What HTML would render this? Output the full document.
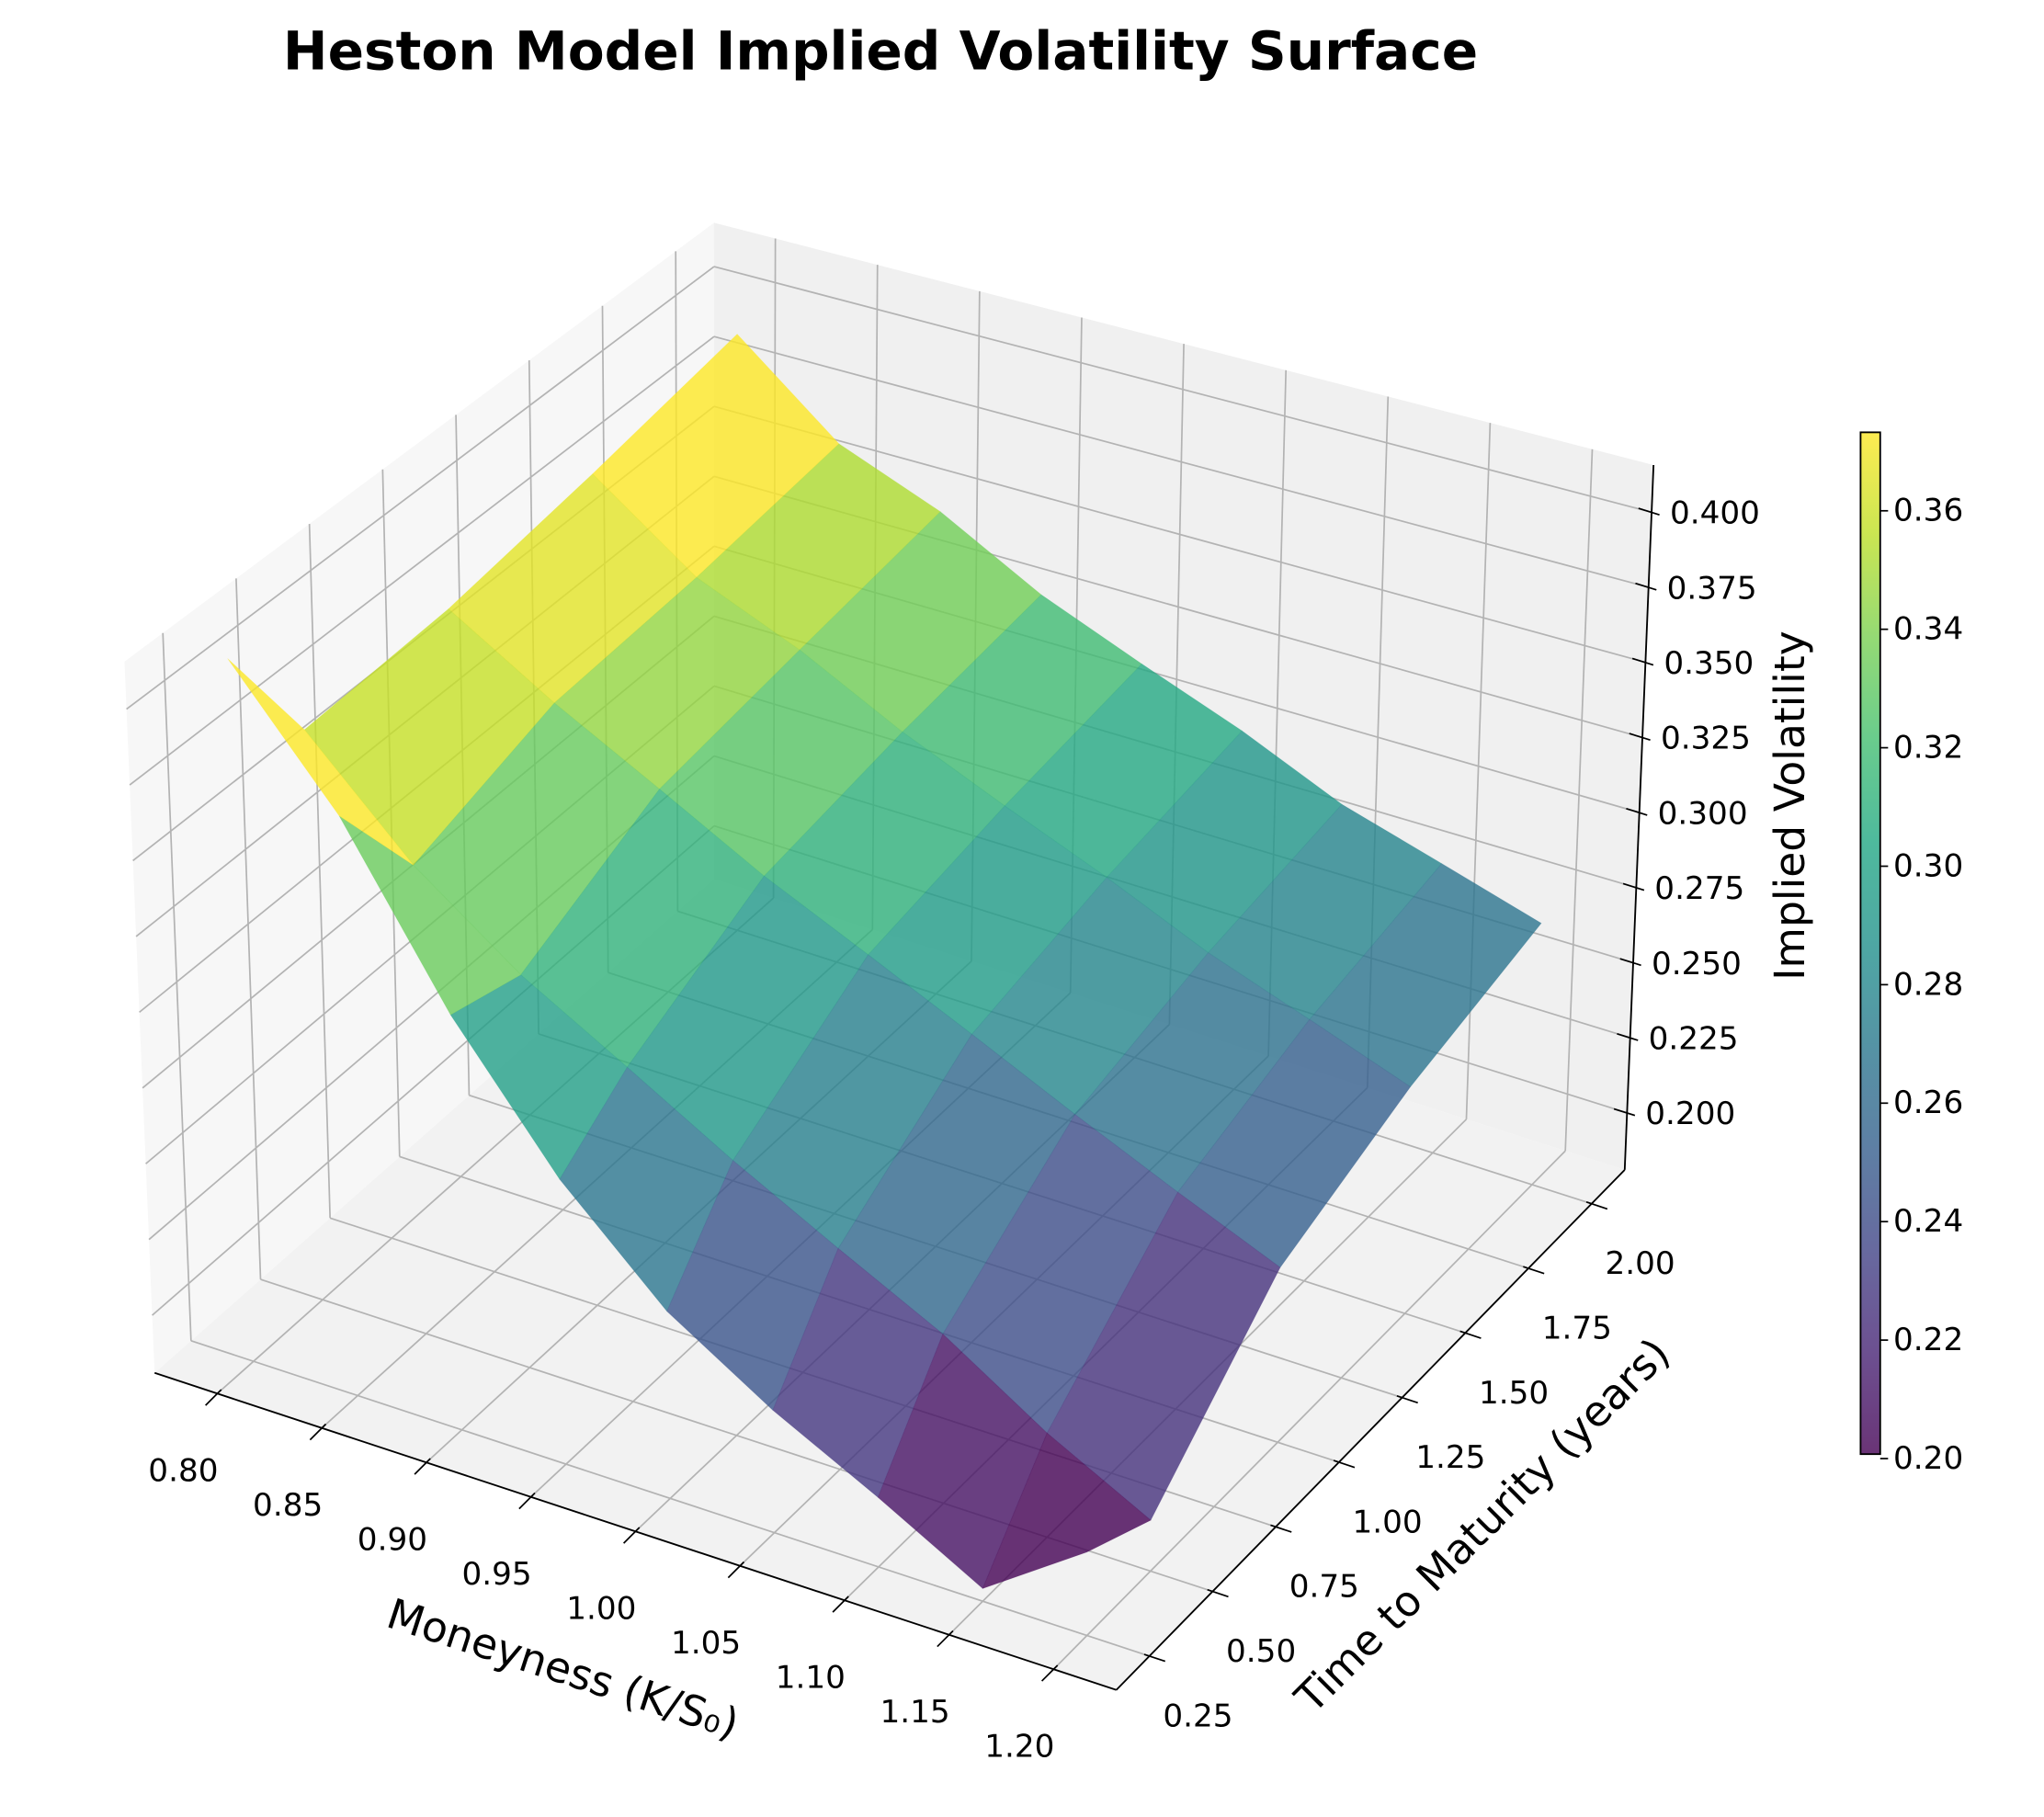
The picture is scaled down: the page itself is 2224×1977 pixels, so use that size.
<!DOCTYPE html>
<html><head><meta charset="utf-8"><title>Heston Model Implied Volatility Surface</title>
<style>html,body{margin:0;padding:0;background:#fff;}svg{display:block;}text{font-family:"DejaVu Sans","Liberation Sans",sans-serif;fill:#000;}</style>
</head><body>
<svg id="chart" xmlns="http://www.w3.org/2000/svg" width="2224" height="1977" viewBox="0 0 1560 1387" preserveAspectRatio="none">
<defs><linearGradient id="cbgrad" x1="0" y1="1" x2="0" y2="0"></linearGradient></defs>
<rect x="0" y="0" width="1560" height="1387" fill="#ffffff"/>
<g id="panes"></g>
<g id="grid"></g>
<g id="axes"></g>
<g id="surface"></g>
<g id="labels"></g>
<g id="colorbar"></g>
<text x="672" y="42" font-size="40.5" font-weight="bold" text-anchor="middle" dominant-baseline="middle" textLength="912" lengthAdjust="spacingAndGlyphs">Heston Model Implied Volatility Surface</text>
<text x="429" y="1276" font-size="32" text-anchor="middle" dominant-baseline="middle" transform="rotate(18 429 1276)">Moneyness (K/S₀)</text>
<text x="1133" y="1166" font-size="32" text-anchor="middle" dominant-baseline="middle" transform="rotate(-45 1133 1166)">Time to Maturity (years)</text>
<text x="1368" y="615" font-size="32" text-anchor="middle" dominant-baseline="middle" transform="rotate(-90 1368 615)">Implied Volatility</text>
</svg>
<script>
const moneyness = [0.80, 0.85, 0.90, 0.95, 1.00, 1.05, 1.10, 1.15, 1.20];
const maturities = [0.25, 0.5, 1.0, 1.5, 2.0];
const ivT025 = [0.413, 0.371, 0.316, 0.273, 0.241, 0.220, 0.203, 0.185, 0.207];
const ivT050 = [0.371, 0.336, 0.310, 0.290, 0.270, 0.252, 0.235, 0.214, 0.197];
const ivT100 = [0.374, 0.352, 0.333, 0.314, 0.298, 0.282, 0.266, 0.251, 0.237];
const ivT150 = [0.382, 0.356, 0.341, 0.323, 0.308, 0.294, 0.279, 0.267, 0.255];
const ivT200 = [0.392, 0.363, 0.349, 0.330, 0.316, 0.303, 0.288, 0.278, 0.268];
const ivRows = [ivT025, ivT050, ivT100, ivT150, ivT200];
const xTicks = [0.80, 0.85, 0.90, 0.95, 1.00, 1.05, 1.10, 1.15, 1.20];
const yTicks = [0.25, 0.50, 0.75, 1.00, 1.25, 1.50, 1.75, 2.00];
const zTicks = [0.200, 0.225, 0.250, 0.275, 0.300, 0.325, 0.350, 0.375, 0.400];
const cbTicks = [0.20, 0.22, 0.24, 0.26, 0.28, 0.30, 0.32, 0.34, 0.36];

const NS = 'http://www.w3.org/2000/svg';
const XL = [0.77, 1.23], YL = [0.119, 2.131], ZL = [0.181, 0.4157];
const CB = [118,1048], CA = [852,1290], CC = [1240,893], CD = [545,671];
const TB = [95,505], TA = [852,710], TC = [1262,355], TD = [545,170];
function bil(p00,p10,p11,p01,u,v){
  return [p00[0]*(1-u)*(1-v)+p10[0]*u*(1-v)+p11[0]*u*v+p01[0]*(1-u)*v,
          p00[1]*(1-u)*(1-v)+p10[1]*u*(1-v)+p11[1]*u*v+p01[1]*(1-u)*v];
}
function proj(m,t,z){
  const u=(m-XL[0])/(XL[1]-XL[0]), v=(t-YL[0])/(YL[1]-YL[0]), w=(z-ZL[0])/(ZL[1]-ZL[0]);
  const f=bil(CB,CA,CC,CD,u,v), g=bil(TB,TA,TC,TD,u,v);
  return [f[0]+(g[0]-f[0])*w, f[1]+(g[1]-f[1])*w];
}
function depth(m,t,z){
  const u=(m-XL[0])/(XL[1]-XL[0]), v=(t-YL[0])/(YL[1]-YL[0]), w=(z-ZL[0])/(ZL[1]-ZL[0]);
  return 0.433*u-0.75*v+0.5*0.75*w;
}
function mk(tag,attrs,parent){
  const e=document.createElementNS(NS,tag);
  for(const k in attrs) e.setAttribute(k,attrs[k]);
  parent.appendChild(e); return e;
}
function pts(a){return a.map(p=>p[0].toFixed(2)+','+p[1].toFixed(2)).join(' ');}
const vir=['#440154','#482475','#414487','#355f8d','#2a788e','#21918c','#22a884','#44bf70','#7ad151','#bddf26','#fde725'];
function hex2(h){return [parseInt(h.substr(1,2),16),parseInt(h.substr(3,2),16),parseInt(h.substr(5,2),16)];}
function viridis(x){
  x=Math.max(0,Math.min(1,x)); const s=x*10, i=Math.min(9,Math.floor(s)), f=s-i;
  const a=hex2(vir[i]), b=hex2(vir[i+1]);
  return 'rgb('+a.map((c,k)=>Math.round(c+(b[k]-c)*f)).join(',')+')';
}

const panes=document.getElementById('panes');
const floorPane=mk('polygon',{points:pts([CB,CA,CC,CD]),fill:'#f2f2f2'},panes);


const leftPane=mk('polygon',{points:pts([CB,CD,TD,TB]),fill:'#f7f7f7'},panes);


const backPane=mk('polygon',{points:pts([CD,CC,TC,TD]),fill:'#f0f0f0'},panes);



const grid=document.getElementById('grid');
function gl(p,q,name){
  const l=mk('line',{x1:p[0],y1:p[1],x2:q[0],y2:q[1],stroke:'#b3b3b3','stroke-width':1.2},grid);
  
  
}
xTicks.forEach(m=>{
  gl(proj(m,YL[0],ZL[0]),proj(m,YL[1],ZL[0]),'floor-grid-x');
  gl(proj(m,YL[1],ZL[0]),proj(m,YL[1],ZL[1]),'back-grid-x');
});
yTicks.forEach(t=>{
  gl(proj(XL[0],t,ZL[0]),proj(XL[1],t,ZL[0]),'floor-grid-y');
  gl(proj(XL[0],t,ZL[0]),proj(XL[0],t,ZL[1]),'left-grid-y');
});
zTicks.forEach(z=>{
  gl(proj(XL[0],YL[0],z),proj(XL[0],YL[1],z),'left-grid-z');
  gl(proj(XL[0],YL[1],z),proj(XL[1],YL[1],z),'back-grid-z');
});

const axes=document.getElementById('axes');
function al(p,q,name,w){
  const l=mk('line',{x1:p[0],y1:p[1],x2:q[0],y2:q[1],stroke:'#000','stroke-width':w||1.3},axes);
  
  
}
al(proj(XL[0],YL[0],ZL[0]),proj(XL[1],YL[0],ZL[0]),'x-axis-line');
al(proj(XL[1],YL[0],ZL[0]),proj(XL[1],YL[1],ZL[0]),'y-axis-line');
al(proj(XL[1],YL[1],ZL[0]),proj(XL[1],YL[1],ZL[1]),'z-axis-line');
const labels=document.getElementById('labels');
function lab(x,y,s,anchor,name){
  const t=mk('text',{x:x,y:y,'font-size':24,'text-anchor':anchor,'dominant-baseline':'middle'},labels);
  t.textContent=s;
  
  
}
xTicks.forEach(m=>{
  const p=proj(m,YL[0],ZL[0]);
  al([p[0]+3,p[1]-3],[p[0]-9,p[1]+9],'x-tick',1.2);
  lab(p[0]-26,p[1]+60,m.toFixed(2),'middle','x-tick-label');
});
yTicks.forEach(t=>{
  const p=proj(XL[1],t,ZL[0]);
  al([p[0]-4,p[1]-1.3],[p[0]+12,p[1]+4],'y-tick',1.2);
  lab(p[0]+37,p[1]+47,t.toFixed(2),'middle','y-tick-label');
});
zTicks.forEach(z=>{
  const p=proj(XL[1],YL[1],z);
  al([p[0]-10,p[1]-3],[p[0]+6,p[1]+2],'z-tick',1.2);
  lab(p[0]+14,p[1]+2,z.toFixed(3),'start','z-tick-label');
});

const faces=[];
for(let i=0;i<maturities.length-1;i++){
  for(let j=0;j<moneyness.length-1;j++){
    const c=[[j,i],[j+1,i],[j+1,i+1],[j,i+1]];
    const vals=c.map(([a,b])=>ivRows[b][a]);
    const avg=vals.reduce((s,v)=>s+v,0)/4;
    const p=c.map(([a,b])=>proj(moneyness[a],maturities[b],ivRows[b][a]));
    const d=c.map(([a,b])=>depth(moneyness[a],maturities[b],ivRows[b][a])).reduce((s,v)=>s+v,0)/4;
    faces.push({p:p,avg:avg,d:d});
  }
}
const vmin=Math.min(...faces.map(f=>f.avg)), vmax=Math.max(...faces.map(f=>f.avg));
faces.sort((a,b)=>a.d-b.d);
const surf=document.getElementById('surface');
faces.forEach(f=>{
  const col=viridis((f.avg-vmin)/(vmax-vmin));
  const pg=mk('polygon',{points:pts(f.p),fill:col,'fill-opacity':0.8,stroke:col,'stroke-opacity':0.25,'stroke-width':0.5},surf);
  
  
});

const grad=document.getElementById('cbgrad');
for(let k=0;k<=20;k++){
  mk('stop',{offset:(k/20),'stop-color':viridis(k/20),'stop-opacity':0.8},grad);
}
const cb=document.getElementById('colorbar');
const cbX=1420, cbW=15, cbTop=330, cbBot=1110;
const cbr=mk('rect',{x:cbX,y:cbTop,width:cbW,height:cbBot-cbTop,fill:'url(#cbgrad)',stroke:'#000','stroke-width':1.3},cb);


cbTicks.forEach(v=>{
  const y=cbBot-(v-vmin)/(vmax-vmin)*(cbBot-cbTop);
  const tk=mk('line',{x1:cbX+cbW,y1:y,x2:cbX+cbW+6,y2:y,stroke:'#000','stroke-width':1.2},cb);
  
  
  const t=mk('text',{x:cbX+cbW+10,y:y+1,'font-size':24,'dominant-baseline':'middle'},cb);
  t.textContent=v.toFixed(2);
  
  
});
</script>
</body></html>
